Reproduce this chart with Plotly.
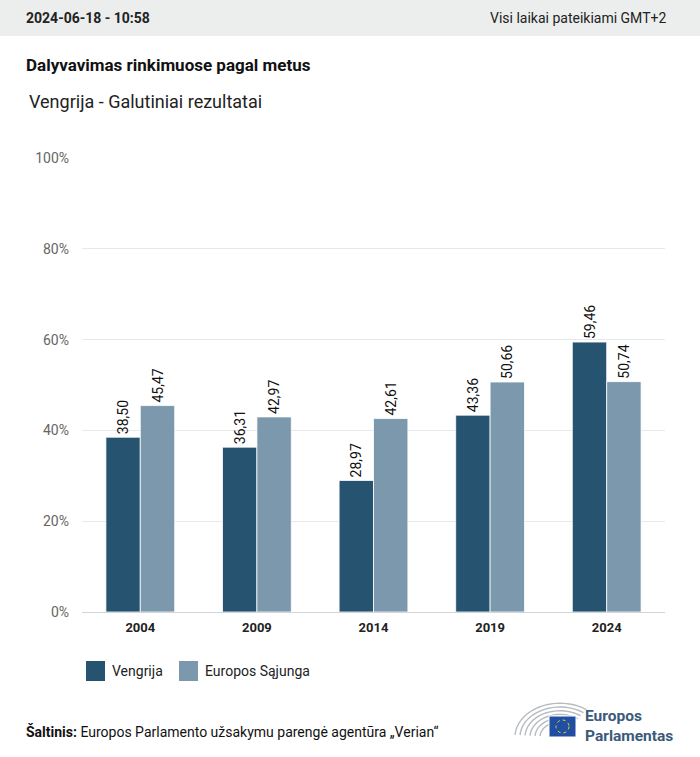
import plotly.graph_objects as go
import numpy as np

years = ["2004", "2009", "2014", "2019", "2024"]
vengrija = [38.50, 36.31, 28.97, 43.36, 59.46]
eu = [45.47, 42.97, 42.61, 50.66, 50.74]
series_names = ["Vengrija", "Europos Sąjunga"]
colors = ["#255370", "#7b98ac"]
y_ticks = [0, 20, 40, 60, 80, 100]

W, H = 700, 757
L, R, T, B = 82, 35, 158, 145
PW = W - L - R
PH = H - T - B

def px(X):
    return (X - L) / PW

def py(Y):
    return (H - B - Y) / PH

def fmt(v):
    return f"{v:.2f}".replace(".", ",")

FONT = "Roboto"

fig = go.Figure()
for name, vals, col in zip(series_names, [vengrija, eu], colors):
    fig.add_trace(go.Bar(
        x=years, y=vals, name=name,
        marker=dict(color=col, line=dict(color="white", width=0.8)),
        text=[fmt(v) for v in vals], textposition="outside", textangle=-90,
        textfont=dict(family=FONT, size=14, color="#111111"),
        constraintext="none", cliponaxis=False, showlegend=False,
        hoverinfo="skip",
    ))

shapes = []
ann = []
# header band
shapes.append(dict(type="rect", xref="paper", yref="paper", x0=px(0), x1=px(W), y0=py(36), y1=py(0),
                   fillcolor="#eceeed", line=dict(width=0), layer="below"))
ann.append(dict(text="<b>2024-06-18 - 10:58</b>", x=px(24), y=py(18), xanchor="left", yanchor="middle",
                font=dict(family=FONT, size=14, color="#222222")))
ann.append(dict(text="Visi laikai pateikiami GMT+2", x=px(668), y=py(18), xanchor="right", yanchor="middle",
                font=dict(family=FONT, size=14, color="#222222")))
ann.append(dict(text="<b>Dalyvavimas rinkimuose pagal metus</b>", x=px(24), y=py(65), xanchor="left", yanchor="middle",
                font=dict(family=FONT, size=17, color="#111111")))
ann.append(dict(text="Vengrija - Galutiniai rezultatai", x=px(27), y=py(101), xanchor="left", yanchor="middle",
                font=dict(family=FONT, size=18, color="#222222")))
# legend
lx = [86, 179]
tx = [110, 203]
for i in range(2):
    shapes.append(dict(type="rect", xref="paper", yref="paper", x0=px(lx[i]), x1=px(lx[i] + 19),
                       y0=py(681), y1=py(661), fillcolor=colors[i], line=dict(width=0)))
    ann.append(dict(text=series_names[i], x=px(tx[i]), y=py(671), xanchor="left", yanchor="middle",
                    font=dict(family=FONT, size=14, color="#222222")))
# source
ann.append(dict(text="<b>Šaltinis:</b> Europos Parlamento užsakymu parengė agentūra „Verian“", x=px(24), y=py(731),
                xanchor="left", yanchor="middle", font=dict(family=FONT, size=14, color="#111111")))
# logo arcs
cx, cy = 560, 737
for k, r in enumerate([45, 40, 35, 30, 25, 20]):
    ry = r * 0.75
    t = np.linspace(np.pi * 0.98, np.pi * 0.5, 20)
    pts = [(cx + r * np.cos(a), cy - ry * np.sin(a)) for a in t]
    path = "M " + " L ".join(f"{px(x):.5f},{py(y):.5f}" for x, y in pts)
    shapes.append(dict(type="path", xref="paper", yref="paper", path=path,
                       line=dict(color="#b5bcc2", width=1.4)))
    t2 = np.linspace(np.pi * 0.5, np.pi * 0.3, 10)
    pts2 = [(cx + r * np.cos(a), cy - ry * np.sin(a)) for a in t2]
    path2 = "M " + " L ".join(f"{px(x):.5f},{py(y):.5f}" for x, y in pts2)
    shapes.append(dict(type="path", xref="paper", yref="paper", path=path2,
                       line=dict(color="#b5bcc2", width=1.4)))
shapes.append(dict(type="rect", xref="paper", yref="paper", x0=px(549), x1=px(576), y0=py(737), y1=py(716),
                   fillcolor="#1f4ea3", line=dict(color="white", width=1)))
shapes.append(dict(type="circle", xref="paper", yref="paper", x0=px(556), x1=px(569), y0=py(733), y1=py(720),
                   line=dict(color="#f2d21b", width=1, dash="dot")))
ann.append(dict(text="<b>Europos</b>", x=px(583), y=py(726.5), xanchor="left", yanchor="bottom",
                font=dict(family=FONT, size=15.5, color="#3a5a7a")))
ann.append(dict(text="<b>Parlamentas</b>", x=px(583), y=py(724.5), xanchor="left", yanchor="top",
                font=dict(family=FONT, size=15.5, color="#3a5a7a")))

for a in ann:
    a.update(xref="paper", yref="paper", showarrow=False)

fig.update_layout(
    width=W, height=H, margin=dict(l=L, r=R, t=T, b=B),
    paper_bgcolor="white", plot_bgcolor="white",
    barmode="group", bargap=0.41, bargroupgap=0,
    shapes=shapes, annotations=ann,
    xaxis=dict(type="category", showgrid=False, showline=True, linecolor="#cfd5da", linewidth=1,
               ticks="", tickfont=dict(family=FONT, size=13, color="#222222"),
               ticktext=[f"<b>{y}</b>" for y in years], tickvals=years, ticklabelstandoff=3),
    yaxis=dict(range=[0, 100], tickvals=y_ticks, ticktext=[f"{v}%" for v in y_ticks],
               showgrid=True, gridcolor="#e6e8ea", gridwidth=1, zeroline=False, showline=False,
               ticks="", tickfont=dict(family=FONT, size=14, color="#666666"), ticklabelstandoff=12),
    font=dict(family=FONT),
)
fig.write_html("out.html", config={"displayModeBar": False},
               post_script="document.body.style.margin='0';")
